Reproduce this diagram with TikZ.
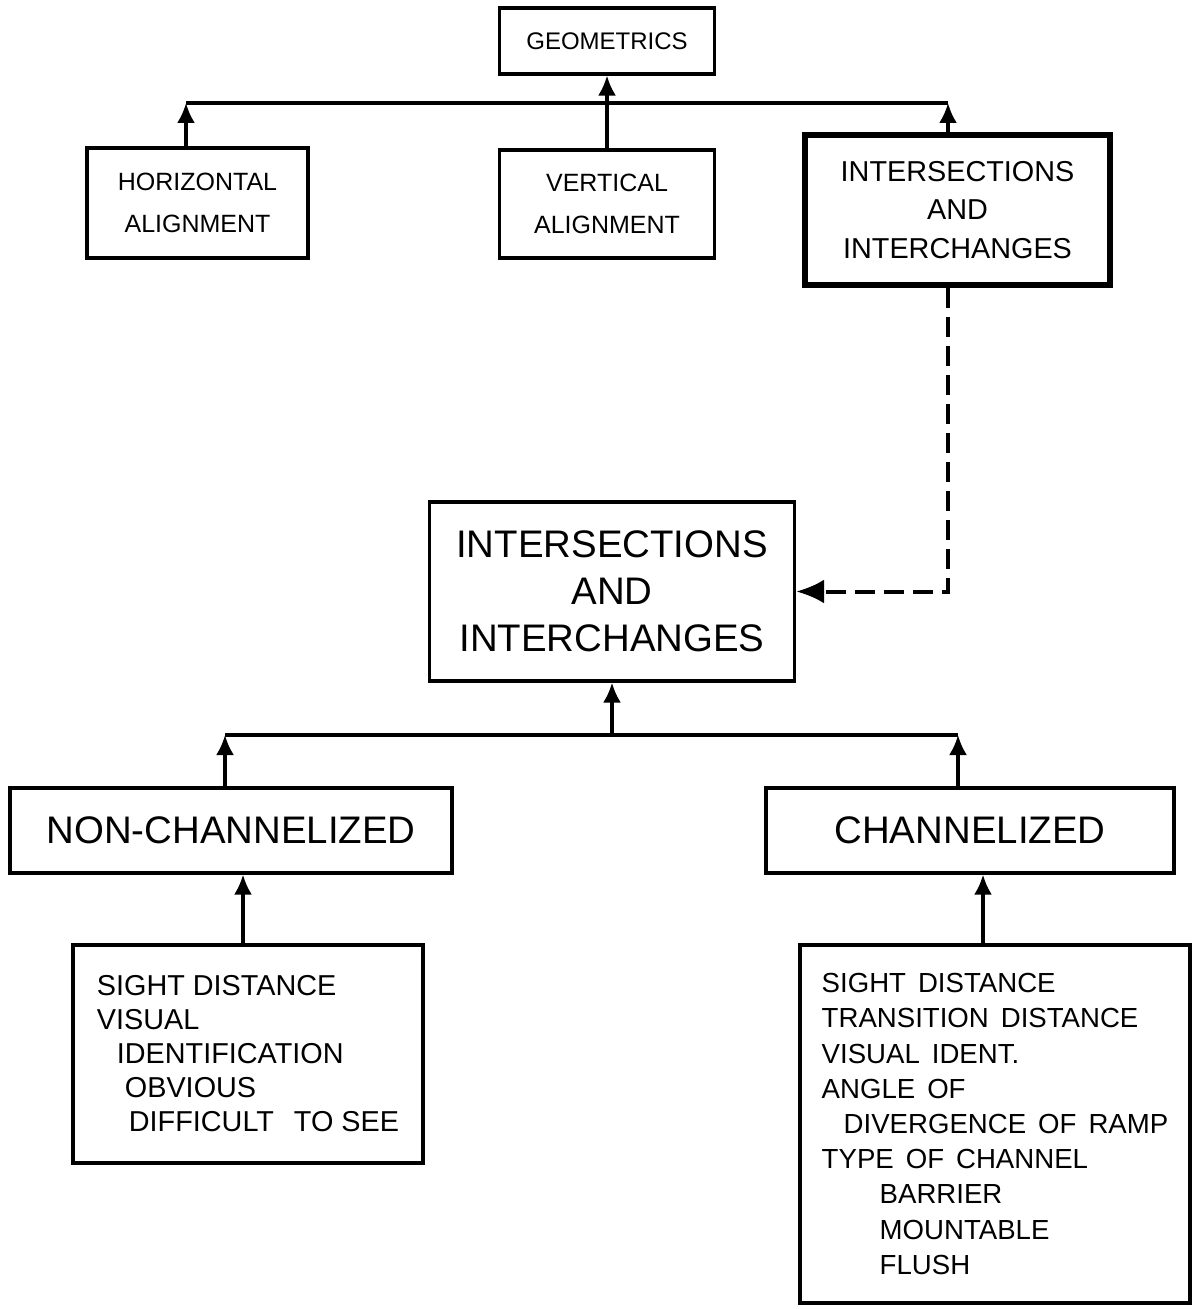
\documentclass[tikz,border=0pt]{standalone}
\usepackage{fontspec}
\setmainfont{Liberation Sans}
\usetikzlibrary{arrows.meta}
\newcommand{\widespaces}{\spaceskip=6pt plus 2pt\relax}
\begin{document}
\begin{tikzpicture}[x=0.5pt,y=-0.5pt,
  box/.style={draw,line width=1.6pt,align=center,inner sep=0pt},
  arr/.style={line width=1.6pt,arrows={-Latex[length=10pt,width=9pt]}},
  link/.style={line width=1.6pt},
  dasharr/.style={line width=2pt,dash pattern=on 10pt off 4.5pt,arrows={-Latex[length=14pt,width=12pt]}}]
\useasboundingbox (0,0) rectangle (1194,1309);

% top level
\node[box,minimum width=107.5pt,minimum height=33pt,font=\fontsize{12}{14}\selectfont] (geo) at (607,41) {GEOMETRICS};
\node[box,minimum width=110.5pt,minimum height=55pt,font=\fontsize{12.5}{21}\selectfont] (horiz) at (197.5,203) {HORIZONTAL\\ALIGNMENT};
\node[box,minimum width=107.5pt,minimum height=54pt,font=\fontsize{12.5}{21}\selectfont] (vert) at (607,204) {VERTICAL\\ALIGNMENT};
\node[box,line width=3pt,minimum width=152.5pt,minimum height=75pt,font=\fontsize{14.4}{19.25}\selectfont] (inttop) at (957.5,210) {INTERSECTIONS\\AND\\INTERCHANGES};

\coordinate (hl) at (186,103);
\coordinate (hr) at (948,103);
\draw[link] (hl) -- (hr);
\draw[arr] (horiz.north -| hl) -- (hl);
\draw[arr] (vert.north) -- (geo.south);
\draw[arr] (inttop.north -| hr) -- (hr);

% second level
\node[box,minimum width=182.5pt,minimum height=89.5pt,font=\fontsize{19.2}{23.5}\selectfont] (intmid) at (612,591.5) {INTERSECTIONS\\AND\\INTERCHANGES};
\draw[dasharr] (inttop.south -| hr) |- (intmid.east);

\node[box,minimum width=221pt,minimum height=42.5pt,font=\fontsize{19.2}{23}\selectfont] (nonch) at (231,830.5) {NON-CHANNELIZED};
\node[box,minimum width=204pt,minimum height=42.5pt,font=\fontsize{19.2}{23}\selectfont] (chan) at (970,830.5) {CHANNELIZED};

\coordinate (ml) at (225,735);
\coordinate (mr) at (958,735);
\draw[link] (ml) -- (mr);
\draw[arr] (nonch.north -| ml) -- (ml);
\draw[arr] (chan.north -| mr) -- (mr);
\draw[arr] (intmid.south |- ml) -- (intmid.south);

% factor lists
\node[box,align=left,minimum width=175pt,minimum height=109pt,font=\fontsize{14.4}{17}\selectfont] (nonlist) at (248,1054)
  {SIGHT DISTANCE\\VISUAL\\\hspace*{10pt}IDENTIFICATION\\\hspace*{14pt}OBVIOUS\\\hspace*{16pt}DIFFICULT\hspace{10pt}TO SEE};
\node[box,align=left,minimum width=195pt,minimum height=179pt,font=\fontsize{13.8}{17.6}\selectfont\widespaces] (chanlist) at (995,1124)
  {SIGHT DISTANCE\\TRANSITION DISTANCE\\VISUAL IDENT.\\ANGLE OF\\\hspace*{11pt}DIVERGENCE OF RAMP\\TYPE OF CHANNEL\\\hspace*{29pt}BARRIER\\\hspace*{29pt}MOUNTABLE\\\hspace*{29pt}FLUSH};

\draw[arr] ([xshift=-2.5pt]nonlist.north) -- ([xshift=-2.5pt]nonlist.north |- nonch.south);
\draw[arr] ([xshift=-6pt]chanlist.north) -- ([xshift=-6pt]chanlist.north |- chan.south);
\end{tikzpicture}
\end{document}
